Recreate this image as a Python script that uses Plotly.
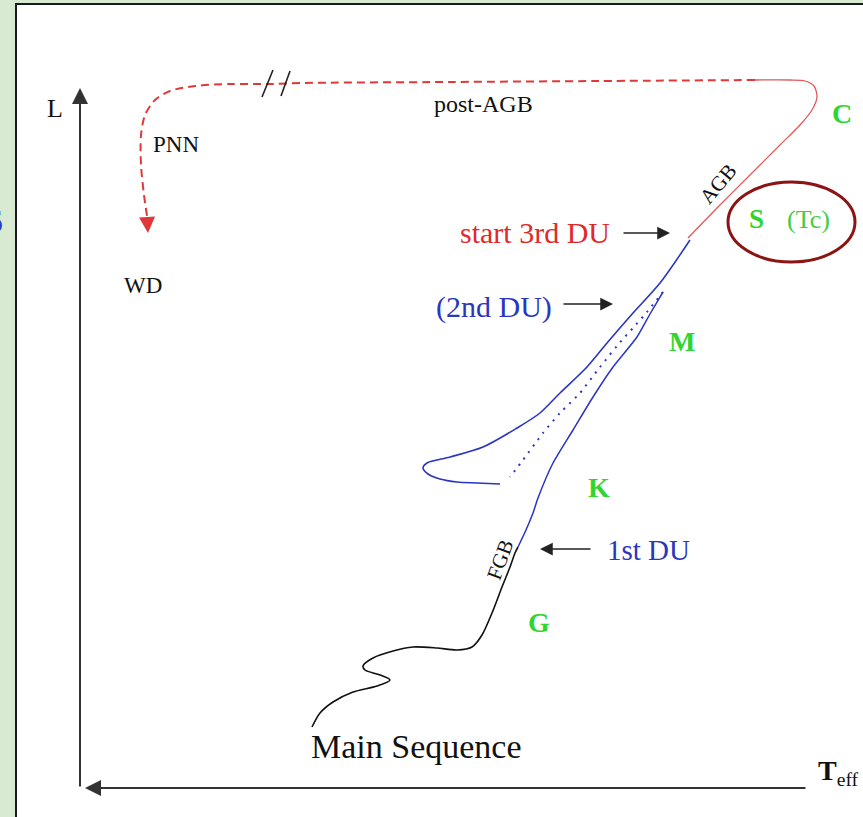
import plotly.graph_objects as go

# ---- schematic track data (diagram units: x ~ Teff axis, y ~ L axis, image-scaled) ----
ms_x = [312, 320, 333, 353, 377, 390, 380, 365, 363, 373, 393, 413, 437, 457, 472, 482, 492, 502, 510, 515, 518]
ms_y = [727, 713, 702, 692, 686, 680, 675, 670, 666, 658, 651, 647, 648, 650, 647, 635, 613, 587, 567, 553, 547]

rgb_x = [518, 526, 533, 538, 553, 573, 593, 613, 637, 650, 663]
rgb_y = [547, 530, 513, 498, 463, 430, 397, 367, 337, 314, 292]

dot_x = [663, 647, 633, 622, 600, 580, 560, 543, 523, 510]
dot_y = [292, 312, 328, 340, 367, 393, 413, 433, 460, 477]

loop_x = [500, 477, 457, 440, 428, 423, 427, 450, 483, 517, 540, 560, 587, 607, 633, 660, 690]
loop_y = [484, 483, 482, 479, 474, 468, 463, 457, 447, 428, 413, 393, 367, 343, 313, 283, 240]

agb_x = [688, 720, 750, 780, 800, 812, 817, 814, 805, 790, 755]
agb_y = [238, 205, 175, 145, 125, 110, 97, 86, 81, 80, 80]

post_x = [755, 600, 450, 300, 270, 230, 195, 170, 155, 145, 141, 141, 144, 147]
post_y = [80, 81, 82, 83, 84, 84, 86, 91, 100, 115, 135, 165, 195, 216]

brk_x = [273, 262, None, 290, 281]
brk_y = [70, 97, None, 71, 96]

FONT = "Liberation Serif"
GREEN = "#2fd62f"
RED = "#e02a2a"
BLUE = "#2a36c0"

fig = go.Figure()

fig.add_trace(go.Scatter(x=ms_x, y=ms_y, mode="lines", line=dict(color="#111", width=1.6, shape="spline", smoothing=0.8)))
fig.add_trace(go.Scatter(x=rgb_x, y=rgb_y, mode="lines", line=dict(color=BLUE, width=1.5, shape="spline", smoothing=0.6)))
fig.add_trace(go.Scatter(x=dot_x, y=dot_y, mode="lines", line=dict(color=BLUE, width=2, dash="2px,6px", shape="spline", smoothing=0.6)))
fig.add_trace(go.Scatter(x=loop_x, y=loop_y, mode="lines", line=dict(color=BLUE, width=1.6, shape="spline", smoothing=0.8)))
fig.add_trace(go.Scatter(x=agb_x, y=agb_y, mode="lines", line=dict(color="#e05a5a", width=1.3, shape="spline", smoothing=0.8)))
fig.add_trace(go.Scatter(x=post_x, y=post_y, mode="lines", line=dict(color="#e03838", width=2, dash="8px,5px", shape="spline", smoothing=0.8)))
fig.add_trace(go.Scatter(x=brk_x, y=brk_y, mode="lines", line=dict(color="#222", width=1.6)))

shapes = [
    dict(type="rect", xref="x", yref="y", x0=16, y0=4, x1=900, y1=840,
         fillcolor="white", line=dict(color="#1a1a1a", width=2), layer="below"),
    dict(type="circle", xref="x", yref="y", x0=728, y0=182, x1=855, y1=262,
         line=dict(color="#8b1414", width=3)),
]

ann = []
def arrow(x, y, ax, ay, color="#222", width=1.5, size=1.5):
    ann.append(dict(x=x, y=y, ax=ax, ay=ay, xref="x", yref="y", axref="x", ayref="y",
                    text="", showarrow=True, arrowhead=2, arrowwidth=width, arrowsize=size,
                    arrowcolor=color))

def text(x, y, t, size, color="#111", angle=0, xa="center"):
    ann.append(dict(x=x, y=y, xref="x", yref="y", text=t, showarrow=False, textangle=angle,
                    xanchor=xa, yanchor="middle", font=dict(family=FONT, size=size, color=color)))

# axes
arrow(80, 88, 80, 788, color="#333", width=2, size=1.6)
arrow(85, 788, 807, 788, color="#333", width=2, size=1.6)
# label arrows
arrow(670, 233, 622, 233, size=1.7)
arrow(613, 304, 562, 304, size=1.7)
arrow(540, 549, 592, 549, size=1.7)
# PNN arrowhead
arrow(148, 233, 147, 216, color="#e03838", width=2, size=1.6)

text(55, 108, "L", 26)
text(176, 144, "PNN", 23)
text(143, 285, "WD", 23)
text(483, 104, "post-AGB", 24)
text(718, 184, "AGB", 21, angle=-50)
text(500, 560, "FGB", 21, angle=-70)
text(842, 113, "<b>C</b>", 28, GREEN)
text(756, 219, "<b>S</b>", 27, GREEN)
text(808, 219, "(Tc)", 26, "#45cc45")
text(535, 232, "start 3rd DU", 30, RED)
text(494, 307, "(2nd DU)", 30, BLUE)
text(648, 550, "1st DU", 29, BLUE)
text(682, 341, "<b>M</b>", 28, GREEN)
text(599, 487, "<b>K</b>", 28, GREEN)
text(539, 622, "<b>G</b>", 28, GREEN)
text(416, 746, "Main Sequence", 34)
text(838, 772, "<b>T</b><sub>eff</sub>", 28)
ann.append(dict(x=6 / 863, y=1 - 222 / 817, xref="paper", yref="paper", text="<b>5</b>", showarrow=False,
                xanchor="right", yanchor="middle", font=dict(family="DejaVu Sans", size=30, color="#2a3ec0")))

fig.update_layout(
    width=863, height=817, margin=dict(l=0, r=0, t=0, b=0),
    paper_bgcolor="#d9ead3", plot_bgcolor="#d9ead3",
    xaxis=dict(range=[0, 863], visible=False, fixedrange=True),
    yaxis=dict(range=[817, 0], visible=False, fixedrange=True),
    showlegend=False, shapes=shapes, annotations=ann,
)

fig.write_html("out.html")
